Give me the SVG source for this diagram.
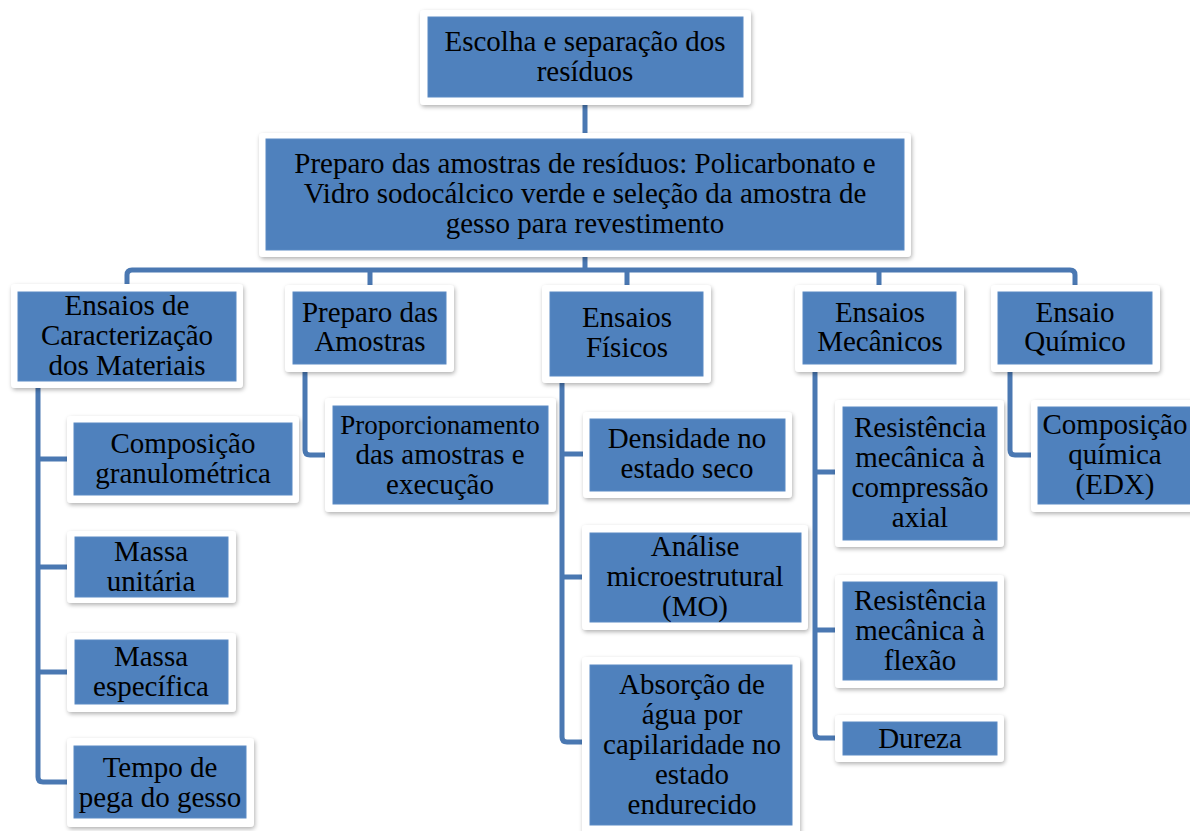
<svg xmlns="http://www.w3.org/2000/svg" width="1190" height="831" viewBox="0 0 1190 831">
<defs>
<filter id="sh" x="-10%" y="-10%" width="120%" height="130%">
<feDropShadow dx="1" dy="2" stdDeviation="2" flood-color="#000" flood-opacity="0.3"/>
</filter>
<style>
.fr{fill:#ffffff;filter:url(#sh)}
.bx{fill:#4F81BD;stroke:#5B8AC4;stroke-width:1}
.t{font-family:"Liberation Serif","Times New Roman",serif;font-size:29px;fill:#000;text-anchor:middle}
.c{fill:none;stroke:#4A78B2;stroke-width:5;stroke-linejoin:round}
</style>
</defs>
<rect width="1190" height="831" fill="#ffffff"/>
<g id="connectors">
<path class="c" d="M585,105 V135"/>
<path class="c" d="M585,255 V270"/>
<path class="c" d="M127,287 V275 Q127,270 132,270 H1070 Q1075,270 1075,275 V287"/>
<path class="c" d="M370,270 V287 M627,270 V287 M879,270 V287"/>
<path class="c" d="M38,386 V777 Q38,782 43,782 H69 M38,459 H69 M38,567 H69 M38,672 H69"/>
<path class="c" d="M305,370 V450 Q305,455 310,455 H327"/>
<path class="c" d="M562,381 V737 Q562,742 567,742 H584 M562,454 H585 M562,577 H584"/>
<path class="c" d="M815,370 V733 Q815,738 820,738 H837 M815,472 H837 M815,630 H837"/>
<path class="c" d="M1010,370 V450 Q1010,455 1015,455 H1033"/>
</g>
<g id="n-top"><rect class="fr" x="420" y="10" width="331" height="95" rx="4"/><rect class="bx" x="428" y="17" width="315" height="80"/><text class="t" x="585" y="51">Escolha e separação dos</text><text class="t" x="585" y="81">resíduos</text></g>
<g id="n-prep"><rect class="fr" x="259" y="133" width="652" height="124" rx="4"/><rect class="bx" x="266" y="139" width="638" height="111"/><text class="t" x="585" y="173">Preparo das amostras de resíduos: Policarbonato e</text><text class="t" x="585" y="203">Vidro sodocálcico verde e seleção da amostra de</text><text class="t" x="585" y="233">gesso para revestimento</text></g>
<g id="n-carac"><rect class="fr" x="11" y="284" width="232" height="104" rx="4"/><rect class="bx" x="18" y="292" width="218" height="89"/><text class="t" x="127" y="315">Ensaios de</text><text class="t" x="127" y="345">Caracterização</text><text class="t" x="127" y="375">dos Materiais</text></g>
<g id="n-prepam"><rect class="fr" x="285" y="285" width="169" height="87" rx="4"/><rect class="bx" x="293" y="292" width="153" height="72"/><text class="t" x="370" y="322">Preparo das</text><text class="t" x="370" y="351">Amostras</text></g>
<g id="n-fis"><rect class="fr" x="542" y="285" width="169" height="98" rx="4"/><rect class="bx" x="550" y="292" width="153" height="84"/><text class="t" x="627" y="327">Ensaios</text><text class="t" x="627" y="357">Físicos</text></g>
<g id="n-mec"><rect class="fr" x="795" y="285" width="169" height="87" rx="4"/><rect class="bx" x="803" y="292" width="153" height="72"/><text class="t" x="880" y="322">Ensaios</text><text class="t" x="880" y="351">Mecânicos</text></g>
<g id="n-qui"><rect class="fr" x="991" y="285" width="169" height="87" rx="4"/><rect class="bx" x="998" y="292" width="154" height="72"/><text class="t" x="1075" y="322">Ensaio</text><text class="t" x="1075" y="351">Químico</text></g>
<g id="n-comp"><rect class="fr" x="67" y="416" width="232" height="87" rx="4"/><rect class="bx" x="74" y="423" width="218" height="72"/><text class="t" x="183" y="453">Composição</text><text class="t" x="183" y="483">granulométrica</text></g>
<g id="n-mu"><rect class="fr" x="67" y="531" width="169" height="72" rx="4"/><rect class="bx" x="75" y="537" width="153" height="60"/><text class="t" x="151" y="561">Massa</text><text class="t" x="151" y="591">unitária</text></g>
<g id="n-me"><rect class="fr" x="67" y="633" width="169" height="79" rx="4"/><rect class="bx" x="75" y="640" width="153" height="64"/><text class="t" x="151" y="666">Massa</text><text class="t" x="151" y="696">específica</text></g>
<g id="n-tempo"><rect class="fr" x="67" y="738" width="187" height="89" rx="4"/><rect class="bx" x="74" y="746" width="172" height="72"/><text class="t" x="160" y="777">Tempo de</text><text class="t" x="160" y="807">pega do gesso</text></g>
<g id="n-propor"><rect class="fr" x="325" y="398" width="231" height="114" rx="4"/><rect class="bx" x="333" y="406" width="215" height="98"/><text class="t" style="font-size:27px" x="440" y="434">Proporcionamento</text><text class="t" x="440" y="464">das amostras e</text><text class="t" x="440" y="494">execução</text></g>
<g id="n-dens"><rect class="fr" x="583" y="412" width="209" height="86" rx="4"/><rect class="bx" x="590" y="419" width="195" height="72"/><text class="t" x="687" y="448">Densidade no</text><text class="t" x="687" y="478">estado seco</text></g>
<g id="n-anal"><rect class="fr" x="582" y="525" width="226" height="105" rx="4"/><rect class="bx" x="590" y="533" width="211" height="89"/><text class="t" x="695" y="556">Análise</text><text class="t" x="695" y="586">microestrutural</text><text class="t" x="695" y="616">(MO)</text></g>
<g id="n-abs"><rect class="fr" x="582" y="657" width="218" height="180" rx="4"/><rect class="bx" x="590" y="665" width="202" height="160"/><text class="t" x="692" y="694">Absorção de</text><text class="t" x="692" y="724">água por</text><text class="t" x="692" y="754">capilaridade no</text><text class="t" x="692" y="784">estado</text><text class="t" x="692" y="814">endurecido</text></g>
<g id="n-rc"><rect class="fr" x="835" y="400" width="169" height="147" rx="4"/><rect class="bx" x="843" y="407" width="154" height="133"/><text class="t" x="920" y="437">Resistência</text><text class="t" x="920" y="467">mecânica à</text><text class="t" x="920" y="497">compressão</text><text class="t" x="920" y="527">axial</text></g>
<g id="n-rf"><rect class="fr" x="835" y="575" width="169" height="113" rx="4"/><rect class="bx" x="843" y="582" width="154" height="98"/><text class="t" x="920" y="610">Resistência</text><text class="t" x="920" y="640">mecânica à</text><text class="t" x="920" y="670">flexão</text></g>
<g id="n-dur"><rect class="fr" x="835" y="715" width="169" height="47" rx="4"/><rect class="bx" x="843" y="722" width="154" height="33"/><text class="t" x="920" y="748">Dureza</text></g>
<g id="n-cq"><rect class="fr" x="1031" y="400" width="175" height="112" rx="4"/><rect class="bx" x="1038" y="407" width="160" height="97"/><text class="t" x="1115" y="434">Composição</text><text class="t" x="1115" y="464">química</text><text class="t" x="1115" y="494">(EDX)</text></g>
</svg>
